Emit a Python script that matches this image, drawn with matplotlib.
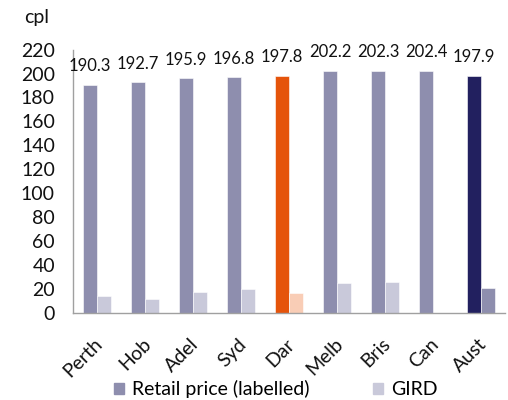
import matplotlib
matplotlib.use("Agg")
import matplotlib.pyplot as plt
import matplotlib.transforms as mtransforms
import numpy as np
from matplotlib.patches import Patch

plt.rcParams['font.family'] = ['Lato', 'DejaVu Sans']

categories = ["Perth", "Hob", "Adel", "Syd", "Dar", "Melb", "Bris", "Can", "Aust"]
retail = [190.3, 192.7, 195.9, 196.8, 197.8, 202.2, 202.3, 202.4, 197.9]
gird = [13.8, 11.3, 17.7, 19.6, 16.3, 25.2, 25.5, 0.0, 20.5]

c_retail = "#8E8EAE"
c_gird = "#C9C9DA"
retail_colors = [c_retail] * 4 + ["#E5540B"] + [c_retail] * 3 + ["#22205F"]
gird_colors = [c_gird] * 4 + ["#F9CDB6"] + [c_gird] * 3 + [c_retail]

fig = plt.figure(figsize=(5.08, 4.0), dpi=100)
ax = fig.add_axes([0.1437, 0.218, 0.850, 0.658])

x = np.arange(len(categories))
w = 0.29
ax.bar(x - w / 2, retail, width=w, color=retail_colors, edgecolor="white", linewidth=0.4)
ax.bar(x + w / 2, gird, width=w, color=gird_colors, edgecolor="white", linewidth=0.4)

for xi, v in zip(x, retail):
    ax.annotate(f"{v:.1f}", (xi - w / 2, v), xytext=(0, 13.5), textcoords="offset points",
                ha="center", va="center", fontsize=12, color="#111111", clip_on=False)

ax.set_xlim(-0.5, len(categories) - 0.5)
ax.set_ylim(0, 220)
ax.set_yticks(np.arange(0, 221, 20))
ax.tick_params(axis="y", length=0, labelsize=14, pad=13, colors="#111111")
ax.tick_params(axis="x", length=0, labelsize=14, pad=9, colors="#111111")
ax.set_xticks(x)
ax.set_xticklabels(categories, rotation=45, ha="right", rotation_mode="anchor")
offset = mtransforms.ScaledTranslation(-3 / 100, -10 / 100, fig.dpi_scale_trans)
for lab in ax.get_xticklabels():
    lab.set_transform(lab.get_transform() + offset)

for s in ["top", "right"]:
    ax.spines[s].set_visible(False)
for s in ["left", "bottom"]:
    ax.spines[s].set_color("#A0A0A0")
    ax.spines[s].set_linewidth(1.0)

fig.text(0.047, 0.955, "cpl", fontsize=14, ha="left", va="center", color="#111111")

handles = [Patch(color=c_retail), Patch(color=c_gird)]
fig.legend(handles, ["Retail price (labelled)", "GIRD"], loc="center",
           bbox_to_anchor=(0.543, 0.027), ncol=2, frameon=False, fontsize=14,
           handlelength=0.5, handleheight=0.5, handletextpad=0.4, columnspacing=3.3,
           borderpad=0.0)

fig.savefig("out.png", dpi=100)
